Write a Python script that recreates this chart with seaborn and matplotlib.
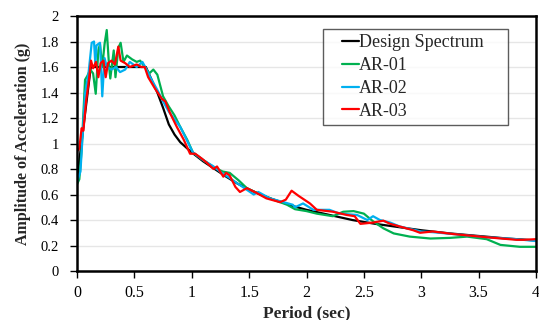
import numpy as np
import pandas as pd
import matplotlib
matplotlib.use("Agg")
import matplotlib.pyplot as plt
import seaborn as sns
from matplotlib.lines import Line2D

# ---- data ----
design_T = [0.0, 0.12, 0.6, 0.65, 0.7, 0.75, 0.8, 0.85, 0.9, 1.0, 1.1, 1.2, 1.3, 1.4, 1.5,
            1.6, 1.7, 1.8, 1.9, 2.0, 2.2, 2.4, 2.6, 2.8, 3.0, 3.25, 3.5, 3.75, 4.0]
design_A = [0.72, 1.6, 1.6, 1.5, 1.4, 1.28, 1.15, 1.07, 1.01, 0.93, 0.86, 0.80, 0.74, 0.685, 0.64,
            0.60, 0.565, 0.535, 0.505, 0.48, 0.44, 0.40, 0.37, 0.345, 0.32, 0.295, 0.275, 0.255, 0.24]

ar01_T = [0.0, 0.02, 0.04, 0.07, 0.09, 0.115, 0.14, 0.163, 0.186, 0.2, 0.22, 0.24, 0.259, 0.28,
          0.29, 0.32, 0.335, 0.36, 0.38, 0.405, 0.435, 0.48, 0.52, 0.55, 0.59, 0.63, 0.665, 0.7,
          0.75, 0.8, 0.85, 0.9, 0.96, 1.01, 1.1, 1.2, 1.27, 1.33, 1.41, 1.48, 1.57, 1.68, 1.77,
          1.83, 1.9, 2.0, 2.09, 2.23, 2.32, 2.41, 2.5, 2.58, 2.67, 2.76, 2.9, 3.08, 3.25, 3.4,
          3.57, 3.69, 3.86, 4.0]
ar01_A = [0.68, 0.72, 0.95, 1.5, 1.53, 1.58, 1.55, 1.39, 1.73, 1.78, 1.6, 1.78, 1.89, 1.6,
          1.51, 1.73, 1.52, 1.75, 1.79, 1.64, 1.69, 1.66, 1.64, 1.65, 1.6, 1.55, 1.58, 1.54,
          1.37, 1.29, 1.22, 1.13, 1.03, 0.93, 0.87, 0.81, 0.78, 0.77, 0.71, 0.65, 0.61, 0.57, 0.54,
          0.52, 0.485, 0.47, 0.45, 0.43, 0.465, 0.47, 0.45, 0.39, 0.335, 0.295, 0.27, 0.255, 0.26,
          0.27, 0.25, 0.205, 0.19, 0.19]

ar02_T = [0.0, 0.03, 0.055, 0.07, 0.1, 0.128, 0.148, 0.16, 0.17, 0.2, 0.22, 0.24, 0.26, 0.3,
          0.34, 0.375, 0.42, 0.46, 0.52, 0.57, 0.6, 0.65, 0.7, 0.75, 0.8, 0.85, 0.9, 1.01, 1.1,
          1.19, 1.26, 1.33, 1.41, 1.54, 1.58, 1.68, 1.8, 1.88, 1.9, 1.97, 2.06, 2.2, 2.29, 2.44,
          2.53, 2.58, 2.64, 2.73, 2.81, 3.0, 3.1, 3.28, 3.57, 3.83, 4.0]
ar02_A = [0.7, 0.78, 1.16, 1.39, 1.55, 1.79, 1.8, 1.62, 1.77, 1.79, 1.37, 1.67, 1.6, 1.58,
          1.6, 1.56, 1.58, 1.64, 1.6, 1.64, 1.59, 1.5, 1.42, 1.33, 1.25, 1.19, 1.13, 0.93, 0.87,
          0.82, 0.77, 0.73, 0.68, 0.6, 0.62, 0.57, 0.54, 0.52, 0.50, 0.53, 0.48, 0.48, 0.45, 0.44,
          0.40, 0.43, 0.40, 0.38, 0.35, 0.31, 0.305, 0.29, 0.265, 0.25, 0.235]

ar03_T = [0.0, 0.02, 0.04, 0.055, 0.08, 0.1, 0.122, 0.14, 0.165, 0.186, 0.206, 0.23, 0.25,
          0.27, 0.3, 0.33, 0.36, 0.38, 0.42, 0.46, 0.52, 0.56, 0.59, 0.62, 0.66, 0.68, 0.74, 0.77,
          0.81, 0.87, 0.93, 0.985, 1.03, 1.09, 1.13, 1.19, 1.22, 1.275, 1.3, 1.33, 1.38, 1.42,
          1.48, 1.57, 1.65, 1.77, 1.82, 1.87, 1.93, 2.03, 2.09, 2.23, 2.35, 2.42, 2.47, 2.58, 2.67,
          2.73, 2.81, 2.93, 2.99, 3.1, 3.28, 3.57, 3.83, 3.9, 4.0]
ar03_A = [0.94, 0.96, 1.12, 1.1, 1.34, 1.47, 1.65, 1.59, 1.64, 1.52, 1.63, 1.65, 1.52,
          1.63, 1.65, 1.62, 1.76, 1.65, 1.63, 1.6, 1.62, 1.6, 1.6, 1.52, 1.46, 1.43, 1.35, 1.33,
          1.24, 1.13, 1.03, 0.92, 0.92, 0.88, 0.85, 0.80, 0.82, 0.74, 0.77, 0.75, 0.66, 0.62,
          0.65, 0.61, 0.57, 0.54, 0.56, 0.63, 0.59, 0.53, 0.48, 0.465, 0.44, 0.43, 0.37, 0.38, 0.395,
          0.37, 0.35, 0.32, 0.30, 0.31, 0.29, 0.265, 0.245, 0.245, 0.25]

series_names = ["Design Spectrum", "AR-01", "AR-02", "AR-03"]
colors = ["#000000", "#00B050", "#00B0F0", "#FF0000"]
x_ticks = [0, 0.5, 1, 1.5, 2, 2.5, 3, 3.5, 4]
x_tick_labels = ["0", "0.5", "1", "1.5", "2", "2.5", "3", "3.5", "4"]
y_ticks = [0, 0.2, 0.4, 0.6, 0.8, 1.0, 1.2, 1.4, 1.6, 1.8, 2.0]
y_tick_labels = ["0", "0.2", "0.4", "0.6", "0.8", "1", "1.2", "1.4", "1.6", "1.8", "2"]

frames = []
for name, T, A in zip(series_names,
                      [design_T, ar01_T, ar02_T, ar03_T],
                      [design_A, ar01_A, ar02_A, ar03_A]):
    frames.append(pd.DataFrame({"Period": T, "Acc": A, "Series": name}))
df = pd.concat(frames, ignore_index=True)

sns.set_theme(style="white")
plt.rcParams["font.family"] = ["Liberation Serif", "DejaVu Serif"]

fig = plt.figure(figsize=(5.39, 3.2), dpi=100)
ax = fig.add_axes([0.1429, 0.153, 0.8515, 0.797])

sns.lineplot(data=df, x="Period", y="Acc", hue="Series", hue_order=series_names,
             palette=dict(zip(series_names, colors)), linewidth=1.6, sort=False,
             estimator=None, ax=ax, legend=False)
for line, z in zip(ax.get_lines(), [2.0, 2.1, 2.2, 2.3]):
    line.set_zorder(z)

ax.set_xlim(0, 4)
ax.set_ylim(0, 2)
ax.set_xticks(x_ticks)
ax.set_xticklabels(x_tick_labels)
ax.set_yticks(y_ticks)
ax.set_yticklabels(y_tick_labels)
ax.tick_params(axis="x", labelsize=11.5, colors="black", length=5, width=1,
               direction="out", bottom=True, pad=5)
ax.tick_params(axis="y", labelsize=10.5, colors="black", length=5, width=1,
               direction="out", left=True, pad=8)
ax.grid(axis="y", color="#e6e6e6", linewidth=1)
ax.set_axisbelow(True)
for s in ax.spines.values():
    s.set_color("black")
    s.set_linewidth(1.8)

ax.set_xlabel("Period (sec)", fontsize=12.5, fontweight="bold", labelpad=3)
ax.set_ylabel("Amplitude of Acceleration (g)", fontsize=11.5, fontweight="bold", labelpad=7)

handles = [Line2D([0], [0], color=c, lw=1.6) for c in colors]
leg = ax.legend(handles, series_names, loc="upper left",
                bbox_to_anchor=(0.536, 0.949, 0.403, 0.0), mode="expand",
                fontsize=13, handlelength=1.7, handletextpad=0.0, labelspacing=0.32,
                frameon=True, fancybox=False, borderpad=0.3, borderaxespad=0)
leg.get_frame().set_edgecolor("#333333")
leg.get_frame().set_linewidth(1)
for hl in leg.get_lines():
    xd = np.asarray(hl.get_xdata(), dtype=float)
    yd = np.asarray(hl.get_ydata(), dtype=float)
    x0, x1 = xd.min(), xd.max()
    ym = float(yd.mean())
    hl.set_data([x0 + 0.44 * (x1 - x0), x1], [ym, ym])

fig.savefig("out.png", dpi=100)
